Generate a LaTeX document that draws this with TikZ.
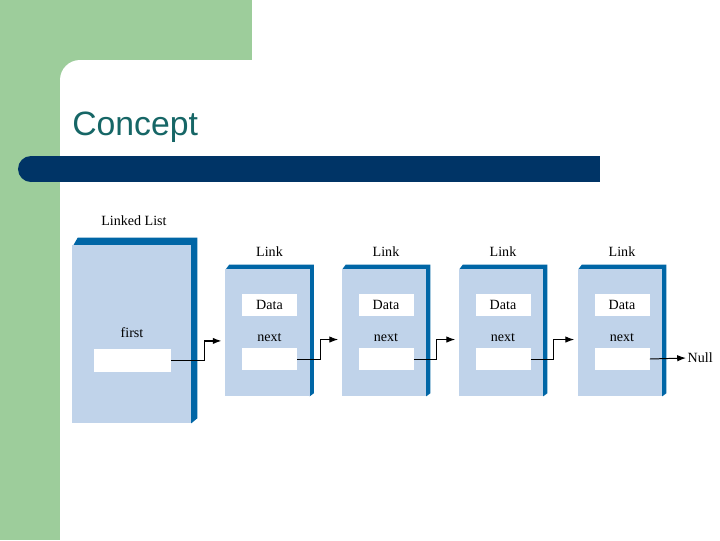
\documentclass[tikz,border=0pt]{standalone}
\usepackage{fontspec}
\setmainfont{Liberation Serif}
\newfontfamily\titlefont{Liberation Sans}
\usetikzlibrary{arrows.meta,calc,positioning}
\pgfdeclarelayer{slide}
\pgfdeclarelayer{edges}
\pgfsetlayers{slide,edges,main}
\definecolor{slidegreen}{RGB}{157,205,155}
\definecolor{barblue}{RGB}{0,52,102}
\definecolor{titleteal}{RGB}{22,102,102}
\definecolor{boxfill}{RGB}{192,211,234}
\definecolor{boxedge}{RGB}{0,102,166}
\tikzset{
    list box/.style={
        fill=boxfill,
        minimum width=2.975cm,
        minimum height=4.45cm,
        inner sep=0pt
    },
    link box/.style={
        fill=boxfill,
        minimum width=2.1cm,
        minimum height=3.175cm,
        inner sep=0pt
    },
    field/.style={
        fill=white,
        minimum width=1.375cm,
        minimum height=0.55cm,
        inner sep=0pt,
        font=\fontsize{10}{12}\selectfont
    },
    box text/.style={inner sep=1pt, font=\fontsize{10}{12}\selectfont},
    link arrow/.style={-{Latex[length=2.2mm,width=1.6mm]}, line width=0.7pt}
}

\begin{document}
\begin{tikzpicture}[x=0.025cm,y=-0.025cm]
    \useasboundingbox (0,0) rectangle (720,540);

    % slide background
    \begin{pgfonlayer}{slide}
        \fill[slidegreen] (0,0) rectangle (252,540);
        \fill[white, rounded corners=0.5cm] (60,60) rectangle (760,580);
        \fill[barblue] (31,156) rectangle (600,182);
        \fill[barblue] (31,169) circle[radius=0.325cm];
    \end{pgfonlayer}
    \node[font=\titlefont\fontsize{24}{28}\selectfont, text=titleteal, anchor=base west, inner sep=0pt] (title) at (72,135) {Concept};

    % linked list object
    \node[list box] (list) at (131.5,334) {};
    \node[box text] (listlabel) at (134,221) {Linked List};
    \node[box text] (firstlabel) at (132,333) {first};
    \node[field, minimum width=1.925cm, minimum height=0.575cm] (firstfield) at (132.5,360.5) {};
    \begin{pgfonlayer}{edges}
        \fill[boxedge] ($(list.north west)+(2,0)$) -- ++(4,-7) -- ($(list.north east)+(6,-7)$)
            -- ($(list.south east)+(6,-5)$) -- ($(list.south east)+(0,0)$) -- cycle;
    \end{pgfonlayer}

    % links
    \foreach \i/\x in {1/267.5,2/384,3/501,4/620}{
        \node[link box] (link\i) at (\x,332.5) {};
        \node[box text] (linklabel\i) at (\x+2,252) {Link};
        \node[field] (data\i) at (\x+2,305) {Data};
        \node[box text] (nextlabel\i) at (\x+2,338) {next};
        \node[field] (next\i) at (\x+2,359) {};
        \begin{pgfonlayer}{edges}
            \fill[boxedge] ($(link\i.north west)+(1,0)$) -- ++(3,-4) -- ($(link\i.north east)+(4,-4)$)
                -- ($(link\i.south east)+(4,-3)$) -- (link\i.south east) -- cycle;
        \end{pgfonlayer}
    }
    \node[box text, anchor=west] (null) at (686,358) {Null};

    % connectors
    \draw[link arrow, line width=1.1pt, shorten >=2.5pt] (firstfield.east) -- ++(33,0) |- ([yshift=-6pt]link1.west);
    \foreach \i/\j in {1/2,2/3,3/4}{
        \draw[link arrow, shorten >=2.5pt] (next\i.east) -- ++(23,0) |- ([yshift=-5pt]link\j.west);
    }
    \draw[link arrow] (next4.east) -- (null.west);
\end{tikzpicture}
\end{document}
